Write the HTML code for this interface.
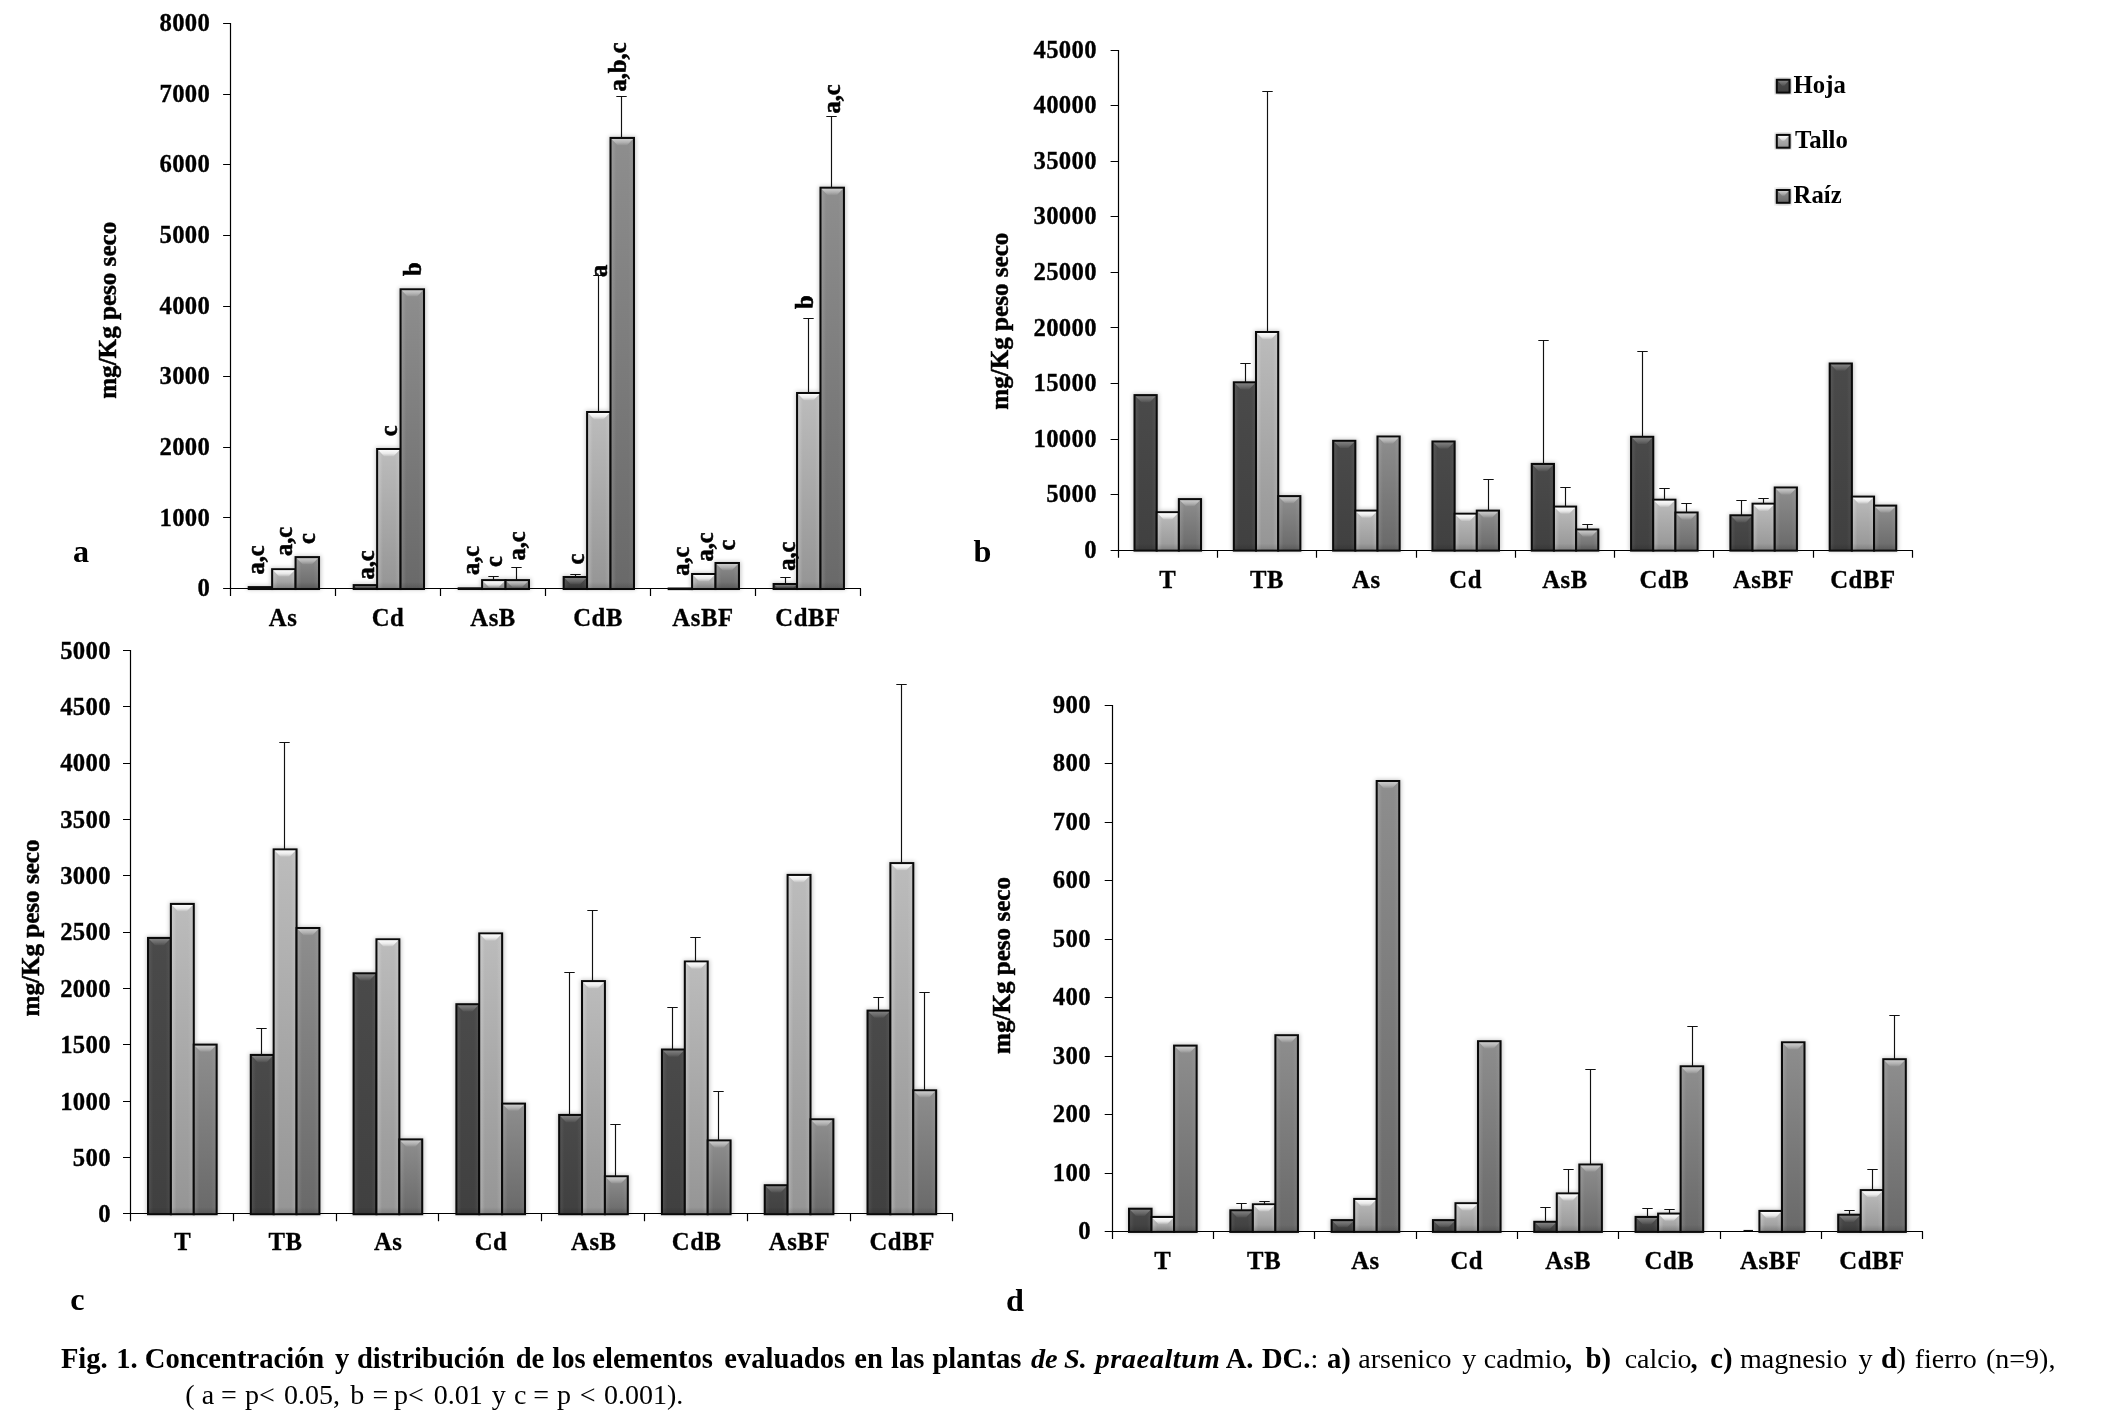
<!DOCTYPE html>
<html><head><meta charset="utf-8"><title>Fig. 1</title>
<style>
html,body{margin:0;padding:0;background:#fff;}
body{width:2112px;height:1424px;overflow:hidden;position:relative;font-family:"Liberation Serif",serif;color:#000;}
svg{position:absolute;left:0;top:0;opacity:0.999;filter:grayscale(1);}
text{font-family:"Liberation Serif",serif;font-weight:bold;fill:#000;}
.tk{font-size:24.7px;letter-spacing:0.3px;stroke:#000;stroke-width:0.3px;}
.ct{font-size:24.7px;letter-spacing:0.6px;stroke:#000;stroke-width:0.3px;}
.yt{font-size:25.1px;stroke:#000;stroke-width:0.45px;}
.an{font-size:24.5px;stroke:#000;stroke-width:0.55px;}
.pl{font-size:32.2px;}
.lg{font-size:24.7px;letter-spacing:0.1px;}
.cp text{font-size:28px;}
.cp .cb{font-weight:bold;font-size:28.6px;}
.cp .cbi{font-weight:bold;font-style:italic;font-size:28.3px;}
.cp .sp{letter-spacing:0.6px;}
.cr{font-weight:normal;}
</style></head><body>
<svg width="2112" height="1424" viewBox="0 0 2112 1424">
<defs>
<linearGradient id="gh" x1="0" y1="0" x2="0" y2="1"><stop offset="0" stop-color="#4a4a4a"/><stop offset="1" stop-color="#404040"/></linearGradient>
<linearGradient id="gt" x1="0" y1="0" x2="0" y2="1"><stop offset="0" stop-color="#bcbcbc"/><stop offset="1" stop-color="#959595"/></linearGradient>
<linearGradient id="gr" x1="0" y1="0" x2="0" y2="1"><stop offset="0" stop-color="#8e8e8e"/><stop offset="1" stop-color="#696969"/></linearGradient>
<linearGradient id="bh" x1="0" y1="0" x2="0" y2="1"><stop offset="0" stop-color="#fff" stop-opacity="0.30"/><stop offset="0.6" stop-color="#fff" stop-opacity="0.16"/><stop offset="1" stop-color="#fff" stop-opacity="0.04"/></linearGradient>
<linearGradient id="bt" x1="0" y1="0" x2="0" y2="1"><stop offset="0" stop-color="#fff" stop-opacity="0.95"/><stop offset="0.55" stop-color="#fff" stop-opacity="0.7"/><stop offset="1" stop-color="#fff" stop-opacity="0.12"/></linearGradient>
<linearGradient id="br" x1="0" y1="0" x2="0" y2="1"><stop offset="0" stop-color="#fff" stop-opacity="0.55"/><stop offset="0.55" stop-color="#fff" stop-opacity="0.32"/><stop offset="1" stop-color="#fff" stop-opacity="0.05"/></linearGradient>
<linearGradient id="bot" x1="0" y1="0" x2="0" y2="1"><stop offset="0" stop-color="#000" stop-opacity="0"/><stop offset="1" stop-color="#000" stop-opacity="0.14"/></linearGradient>
<linearGradient id="sh" x1="0" y1="0" x2="1" y2="0"><stop offset="0" stop-color="#fff" stop-opacity="0.07"/><stop offset="0.2" stop-color="#fff" stop-opacity="0"/><stop offset="0.8" stop-color="#fff" stop-opacity="0"/><stop offset="1" stop-color="#fff" stop-opacity="0.05"/></linearGradient>
<linearGradient id="st" x1="0" y1="0" x2="1" y2="0"><stop offset="0" stop-color="#fff" stop-opacity="0.22"/><stop offset="0.22" stop-color="#fff" stop-opacity="0"/><stop offset="0.78" stop-color="#fff" stop-opacity="0"/><stop offset="1" stop-color="#fff" stop-opacity="0.12"/></linearGradient>
<linearGradient id="sr" x1="0" y1="0" x2="1" y2="0"><stop offset="0" stop-color="#fff" stop-opacity="0.12"/><stop offset="0.22" stop-color="#fff" stop-opacity="0"/><stop offset="0.78" stop-color="#fff" stop-opacity="0"/><stop offset="1" stop-color="#fff" stop-opacity="0.06"/></linearGradient>
<filter id="blur" x="-5%" y="-5%" width="110%" height="110%"><feGaussianBlur stdDeviation="2.2"/></filter>
</defs>
<rect width="2112" height="1424" fill="#fff"/>

<g>
<text class="tk" x="210.1" y="596.2" text-anchor="end">0</text>
<text class="tk" x="210.1" y="525.56" text-anchor="end">1000</text>
<text class="tk" x="210.1" y="454.93" text-anchor="end">2000</text>
<text class="tk" x="210.1" y="384.29" text-anchor="end">3000</text>
<text class="tk" x="210.1" y="313.65" text-anchor="end">4000</text>
<text class="tk" x="210.1" y="243.01" text-anchor="end">5000</text>
<text class="tk" x="210.1" y="172.37" text-anchor="end">6000</text>
<text class="tk" x="210.1" y="101.74" text-anchor="end">7000</text>
<text class="tk" x="210.1" y="31.1" text-anchor="end">8000</text>
<text class="ct" x="283.09" y="625.6" text-anchor="middle">As</text>
<text class="ct" x="388.07" y="625.6" text-anchor="middle">Cd</text>
<text class="ct" x="493.06" y="625.6" text-anchor="middle">AsB</text>
<text class="ct" x="598.04" y="625.6" text-anchor="middle">CdB</text>
<text class="ct" x="703.02" y="625.6" text-anchor="middle">AsBF</text>
<text class="ct" x="808.01" y="625.6" text-anchor="middle">CdBF</text>
<text class="yt" transform="translate(115.5 310.3) rotate(-90)" text-anchor="middle">mg/Kg peso seco</text>
<g filter="url(#blur)" fill="#000" opacity="0.22"><rect x="247.2" y="585.6" width="26.98" height="4"/><rect x="270.63" y="567.7" width="26.98" height="21.9"/><rect x="294.06" y="555.6" width="26.98" height="34"/><rect x="352.18" y="583.6" width="26.98" height="6"/><rect x="375.61" y="447.5" width="26.98" height="142.1"/><rect x="399.04" y="287.8" width="26.98" height="301.8"/><rect x="457.17" y="586.8" width="26.98" height="2.8"/><rect x="480.6" y="578.6" width="26.98" height="11"/><rect x="504.03" y="578.6" width="26.98" height="11"/><rect x="562.15" y="575.5" width="26.98" height="14.1"/><rect x="585.58" y="410.5" width="26.98" height="179.1"/><rect x="609.01" y="136.4" width="26.98" height="453.2"/><rect x="690.56" y="572.5" width="26.98" height="17.1"/><rect x="713.99" y="561.5" width="26.98" height="28.1"/><rect x="772.12" y="582.5" width="26.98" height="7.1"/><rect x="795.55" y="391.5" width="26.98" height="198.1"/><rect x="818.98" y="186.2" width="26.98" height="403.4"/></g>
<path d="M230.5 23V596.1M223.1 588.5H861M223.1 517.5H230.5M223.1 447.5H230.5M223.1 376.5H230.5M223.1 306.5H230.5M223.1 235.5H230.5M223.1 164.5H230.5M223.1 94.5H230.5M223.1 23.5H230.5M335.5 588.5V596.1M440.5 588.5V596.1M545.5 588.5V596.1M650.5 588.5V596.1M755.5 588.5V596.1M860.5 588.5V596.1" stroke="#000" stroke-width="1.2" fill="none"/>
<rect x="248.72" y="587.12" width="23.43" height="1.88" fill="url(#gh)" stroke="#0a0a0a" stroke-width="2.05"/><rect x="272.15" y="569.23" width="23.43" height="19.77" fill="url(#gt)" stroke="#0a0a0a" stroke-width="2.05"/><rect x="273.18" y="570.25" width="21.38" height="17.72" fill="url(#st)"/><rect x="273.18" y="581.98" width="21.38" height="6" fill="url(#bot)"/><polygon points="273.18,570.25 294.56,570.25 288.67,576.45 279.07,576.45" fill="url(#bt)"/><rect x="295.58" y="557.12" width="23.43" height="31.88" fill="url(#gr)" stroke="#0a0a0a" stroke-width="2.05"/><rect x="296.61" y="558.15" width="21.38" height="29.82" fill="url(#sr)"/><rect x="296.61" y="581.98" width="21.38" height="6" fill="url(#bot)"/><polygon points="296.61,558.15 317.99,558.15 312.1,564.35 302.5,564.35" fill="url(#br)"/><rect x="353.71" y="585.12" width="23.43" height="3.88" fill="url(#gh)" stroke="#0a0a0a" stroke-width="2.05"/><rect x="354.73" y="586.15" width="21.38" height="1.83" fill="url(#sh)"/><rect x="354.73" y="586.15" width="21.38" height="1.83" fill="url(#bot)"/><polygon points="354.73,586.15 376.11,586.15 374.38,587.98 356.47,587.98" fill="url(#bh)"/><rect x="377.14" y="449.02" width="23.43" height="139.98" fill="url(#gt)" stroke="#0a0a0a" stroke-width="2.05"/><rect x="378.16" y="450.05" width="21.38" height="137.93" fill="url(#st)"/><rect x="378.16" y="581.97" width="21.38" height="6" fill="url(#bot)"/><polygon points="378.16,450.05 399.54,450.05 393.65,456.25 384.05,456.25" fill="url(#bt)"/><rect x="400.57" y="289.32" width="23.43" height="299.68" fill="url(#gr)" stroke="#0a0a0a" stroke-width="2.05"/><rect x="401.59" y="290.35" width="21.38" height="297.62" fill="url(#sr)"/><rect x="401.59" y="581.97" width="21.38" height="6" fill="url(#bot)"/><polygon points="401.59,290.35 422.97,290.35 417.08,296.55 407.48,296.55" fill="url(#br)"/><rect x="458.69" y="588.32" width="23.43" height="0.68" fill="url(#gh)" stroke="#0a0a0a" stroke-width="2.05"/><rect x="482.12" y="580.12" width="23.43" height="8.88" fill="url(#gt)" stroke="#0a0a0a" stroke-width="2.05"/><rect x="483.15" y="581.15" width="21.38" height="6.83" fill="url(#st)"/><rect x="483.15" y="581.98" width="21.38" height="6" fill="url(#bot)"/><polygon points="483.15,581.15 504.53,581.15 498.64,587.35 489.04,587.35" fill="url(#bt)"/><rect x="505.55" y="580.12" width="23.43" height="8.88" fill="url(#gr)" stroke="#0a0a0a" stroke-width="2.05"/><rect x="506.58" y="581.15" width="21.38" height="6.83" fill="url(#sr)"/><rect x="506.58" y="581.98" width="21.38" height="6" fill="url(#bot)"/><polygon points="506.58,581.15 527.96,581.15 522.07,587.35 512.47,587.35" fill="url(#br)"/><rect x="563.67" y="577.02" width="23.43" height="11.98" fill="url(#gh)" stroke="#0a0a0a" stroke-width="2.05"/><rect x="564.7" y="578.05" width="21.38" height="9.93" fill="url(#sh)"/><rect x="564.7" y="581.98" width="21.38" height="6" fill="url(#bot)"/><polygon points="564.7,578.05 586.08,578.05 580.19,584.25 570.59,584.25" fill="url(#bh)"/><rect x="587.1" y="412.02" width="23.43" height="176.98" fill="url(#gt)" stroke="#0a0a0a" stroke-width="2.05"/><rect x="588.13" y="413.05" width="21.38" height="174.93" fill="url(#st)"/><rect x="588.13" y="581.97" width="21.38" height="6" fill="url(#bot)"/><polygon points="588.13,413.05 609.51,413.05 603.62,419.25 594.02,419.25" fill="url(#bt)"/><rect x="610.53" y="137.93" width="23.43" height="451.07" fill="url(#gr)" stroke="#0a0a0a" stroke-width="2.05"/><rect x="611.56" y="138.95" width="21.38" height="449.02" fill="url(#sr)"/><rect x="611.56" y="581.98" width="21.38" height="6" fill="url(#bot)"/><polygon points="611.56,138.95 632.94,138.95 627.05,145.15 617.45,145.15" fill="url(#br)"/><rect x="668.66" y="588.52" width="23.43" height="0.6" fill="url(#gh)" stroke="#0a0a0a" stroke-width="2.05"/><rect x="692.09" y="574.02" width="23.43" height="14.98" fill="url(#gt)" stroke="#0a0a0a" stroke-width="2.05"/><rect x="693.11" y="575.05" width="21.38" height="12.93" fill="url(#st)"/><rect x="693.11" y="581.98" width="21.38" height="6" fill="url(#bot)"/><polygon points="693.11,575.05 714.49,575.05 708.6,581.25 699,581.25" fill="url(#bt)"/><rect x="715.52" y="563.02" width="23.43" height="25.98" fill="url(#gr)" stroke="#0a0a0a" stroke-width="2.05"/><rect x="716.54" y="564.05" width="21.38" height="23.93" fill="url(#sr)"/><rect x="716.54" y="581.98" width="21.38" height="6" fill="url(#bot)"/><polygon points="716.54,564.05 737.92,564.05 732.03,570.25 722.43,570.25" fill="url(#br)"/><rect x="773.64" y="584.02" width="23.43" height="4.98" fill="url(#gh)" stroke="#0a0a0a" stroke-width="2.05"/><rect x="774.67" y="585.05" width="21.38" height="2.93" fill="url(#sh)"/><rect x="774.67" y="585.05" width="21.38" height="2.93" fill="url(#bot)"/><polygon points="774.67,585.05 796.05,585.05 793.27,587.98 777.45,587.98" fill="url(#bh)"/><rect x="797.07" y="393.02" width="23.43" height="195.98" fill="url(#gt)" stroke="#0a0a0a" stroke-width="2.05"/><rect x="798.1" y="394.05" width="21.38" height="193.93" fill="url(#st)"/><rect x="798.1" y="581.97" width="21.38" height="6" fill="url(#bot)"/><polygon points="798.1,394.05 819.48,394.05 813.59,400.25 803.99,400.25" fill="url(#bt)"/><rect x="820.5" y="187.72" width="23.43" height="401.27" fill="url(#gr)" stroke="#0a0a0a" stroke-width="2.05"/><rect x="821.53" y="188.75" width="21.38" height="399.22" fill="url(#sr)"/><rect x="821.53" y="581.97" width="21.38" height="6" fill="url(#bot)"/><polygon points="821.53,188.75 842.91,188.75 837.02,194.95 827.42,194.95" fill="url(#br)"/>
<g stroke="#111" stroke-width="1.15" fill="none"><path d="M493.5 580.1V576.5M488.3 576.5H498.7" /><path d="M516.5 580.1V567.5M511.3 567.5H521.7" /><path d="M575.5 577V574.5M570.3 574.5H580.7" /><path d="M598.5 412V275.5M593.3 275.5H603.7" /><path d="M621.5 137.9V96.5M616.3 96.5H626.7" /><path d="M785.5 584V577.5M780.3 577.5H790.7" /><path d="M808.5 393V318.5M803.3 318.5H813.7" /><path d="M831.5 187.7V116.5M826.3 116.5H836.7" /></g>
</g>
<g>
<text class="tk" x="1096.8" y="557.8" text-anchor="end">0</text>
<text class="tk" x="1096.8" y="502.24" text-anchor="end">5000</text>
<text class="tk" x="1096.8" y="446.69" text-anchor="end">10000</text>
<text class="tk" x="1096.8" y="391.13" text-anchor="end">15000</text>
<text class="tk" x="1096.8" y="335.58" text-anchor="end">20000</text>
<text class="tk" x="1096.8" y="280.02" text-anchor="end">25000</text>
<text class="tk" x="1096.8" y="224.47" text-anchor="end">30000</text>
<text class="tk" x="1096.8" y="168.91" text-anchor="end">35000</text>
<text class="tk" x="1096.8" y="113.36" text-anchor="end">40000</text>
<text class="tk" x="1096.8" y="57.8" text-anchor="end">45000</text>
<text class="ct" x="1167.76" y="587.6" text-anchor="middle">T</text>
<text class="ct" x="1267.07" y="587.6" text-anchor="middle">TB</text>
<text class="ct" x="1366.38" y="587.6" text-anchor="middle">As</text>
<text class="ct" x="1465.69" y="587.6" text-anchor="middle">Cd</text>
<text class="ct" x="1565.01" y="587.6" text-anchor="middle">AsB</text>
<text class="ct" x="1664.32" y="587.6" text-anchor="middle">CdB</text>
<text class="ct" x="1763.63" y="587.6" text-anchor="middle">AsBF</text>
<text class="ct" x="1862.94" y="587.6" text-anchor="middle">CdBF</text>
<text class="yt" transform="translate(1008.3 321.2) rotate(-90)" text-anchor="middle">mg/Kg peso seco</text>
<g filter="url(#blur)" fill="#000" opacity="0.22"><rect x="1133" y="393.6" width="25.72" height="157.6"/><rect x="1155.17" y="510.7" width="25.72" height="40.5"/><rect x="1177.34" y="497.6" width="25.72" height="53.6"/><rect x="1232.31" y="380.8" width="25.72" height="170.4"/><rect x="1254.48" y="330.5" width="25.72" height="220.7"/><rect x="1276.65" y="494.6" width="25.72" height="56.6"/><rect x="1331.62" y="439.3" width="25.72" height="111.9"/><rect x="1353.8" y="509.1" width="25.72" height="42.1"/><rect x="1375.96" y="435" width="25.72" height="116.2"/><rect x="1430.94" y="440" width="25.72" height="111.2"/><rect x="1453.11" y="512.2" width="25.72" height="39"/><rect x="1475.28" y="509.1" width="25.72" height="42.1"/><rect x="1530.25" y="462.4" width="25.72" height="88.8"/><rect x="1552.42" y="505.1" width="25.72" height="46.1"/><rect x="1574.59" y="528" width="25.72" height="23.2"/><rect x="1629.56" y="435.3" width="25.72" height="115.9"/><rect x="1651.73" y="498.2" width="25.72" height="53"/><rect x="1673.9" y="511" width="25.72" height="40.2"/><rect x="1728.88" y="513.8" width="25.72" height="37.4"/><rect x="1751.05" y="502.2" width="25.72" height="49"/><rect x="1773.21" y="486" width="25.72" height="65.2"/><rect x="1828.19" y="362" width="25.72" height="189.2"/><rect x="1850.36" y="495.1" width="25.72" height="56.1"/><rect x="1872.53" y="504.1" width="25.72" height="47.1"/></g>
<path d="M1118.5 50V557.7M1110.6 550.5H1913M1110.6 494.5H1118.5M1110.6 439.5H1118.5M1110.6 383.5H1118.5M1110.6 327.5H1118.5M1110.6 272.5H1118.5M1110.6 216.5H1118.5M1110.6 161.5H1118.5M1110.6 105.5H1118.5M1110.6 50.5H1118.5M1217.5 550.5V557.7M1316.5 550.5V557.7M1416.5 550.5V557.7M1515.5 550.5V557.7M1614.5 550.5V557.7M1713.5 550.5V557.7M1813.5 550.5V557.7M1912.5 550.5V557.7" stroke="#000" stroke-width="1.2" fill="none"/>
<rect x="1134.53" y="395.12" width="22.17" height="155.48" fill="url(#gh)" stroke="#0a0a0a" stroke-width="2.05"/><rect x="1135.55" y="396.15" width="20.12" height="153.43" fill="url(#sh)"/><rect x="1135.55" y="543.58" width="20.12" height="6" fill="url(#bot)"/><polygon points="1135.55,396.15 1155.67,396.15 1149.78,402.35 1141.44,402.35" fill="url(#bh)"/><rect x="1156.7" y="512.23" width="22.17" height="38.38" fill="url(#gt)" stroke="#0a0a0a" stroke-width="2.05"/><rect x="1157.72" y="513.25" width="20.12" height="36.33" fill="url(#st)"/><rect x="1157.72" y="543.58" width="20.12" height="6" fill="url(#bot)"/><polygon points="1157.72,513.25 1177.84,513.25 1171.95,519.45 1163.61,519.45" fill="url(#bt)"/><rect x="1178.87" y="499.12" width="22.17" height="51.48" fill="url(#gr)" stroke="#0a0a0a" stroke-width="2.05"/><rect x="1179.89" y="500.15" width="20.12" height="49.43" fill="url(#sr)"/><rect x="1179.89" y="543.58" width="20.12" height="6" fill="url(#bot)"/><polygon points="1179.89,500.15 1200.01,500.15 1194.12,506.35 1185.78,506.35" fill="url(#br)"/><rect x="1233.84" y="382.32" width="22.17" height="168.28" fill="url(#gh)" stroke="#0a0a0a" stroke-width="2.05"/><rect x="1234.86" y="383.35" width="20.12" height="166.23" fill="url(#sh)"/><rect x="1234.86" y="543.58" width="20.12" height="6" fill="url(#bot)"/><polygon points="1234.86,383.35 1254.98,383.35 1249.09,389.55 1240.75,389.55" fill="url(#bh)"/><rect x="1256.01" y="332.02" width="22.17" height="218.58" fill="url(#gt)" stroke="#0a0a0a" stroke-width="2.05"/><rect x="1257.03" y="333.05" width="20.12" height="216.53" fill="url(#st)"/><rect x="1257.03" y="543.58" width="20.12" height="6" fill="url(#bot)"/><polygon points="1257.03,333.05 1277.15,333.05 1271.26,339.25 1262.92,339.25" fill="url(#bt)"/><rect x="1278.18" y="496.12" width="22.17" height="54.48" fill="url(#gr)" stroke="#0a0a0a" stroke-width="2.05"/><rect x="1279.2" y="497.15" width="20.12" height="52.43" fill="url(#sr)"/><rect x="1279.2" y="543.58" width="20.12" height="6" fill="url(#bot)"/><polygon points="1279.2,497.15 1299.32,497.15 1293.43,503.35 1285.09,503.35" fill="url(#br)"/><rect x="1333.15" y="440.82" width="22.17" height="109.78" fill="url(#gh)" stroke="#0a0a0a" stroke-width="2.05"/><rect x="1334.18" y="441.85" width="20.12" height="107.73" fill="url(#sh)"/><rect x="1334.18" y="543.58" width="20.12" height="6" fill="url(#bot)"/><polygon points="1334.18,441.85 1354.3,441.85 1348.4,448.05 1340.07,448.05" fill="url(#bh)"/><rect x="1355.32" y="510.62" width="22.17" height="39.98" fill="url(#gt)" stroke="#0a0a0a" stroke-width="2.05"/><rect x="1356.35" y="511.65" width="20.12" height="37.93" fill="url(#st)"/><rect x="1356.35" y="543.58" width="20.12" height="6" fill="url(#bot)"/><polygon points="1356.35,511.65 1376.46,511.65 1370.57,517.85 1362.24,517.85" fill="url(#bt)"/><rect x="1377.49" y="436.52" width="22.17" height="114.08" fill="url(#gr)" stroke="#0a0a0a" stroke-width="2.05"/><rect x="1378.52" y="437.55" width="20.12" height="112.03" fill="url(#sr)"/><rect x="1378.52" y="543.58" width="20.12" height="6" fill="url(#bot)"/><polygon points="1378.52,437.55 1398.63,437.55 1392.74,443.75 1384.41,443.75" fill="url(#br)"/><rect x="1432.46" y="441.52" width="22.17" height="109.08" fill="url(#gh)" stroke="#0a0a0a" stroke-width="2.05"/><rect x="1433.49" y="442.55" width="20.12" height="107.03" fill="url(#sh)"/><rect x="1433.49" y="543.58" width="20.12" height="6" fill="url(#bot)"/><polygon points="1433.49,442.55 1453.61,442.55 1447.72,448.75 1439.38,448.75" fill="url(#bh)"/><rect x="1454.63" y="513.73" width="22.17" height="36.88" fill="url(#gt)" stroke="#0a0a0a" stroke-width="2.05"/><rect x="1455.66" y="514.75" width="20.12" height="34.83" fill="url(#st)"/><rect x="1455.66" y="543.58" width="20.12" height="6" fill="url(#bot)"/><polygon points="1455.66,514.75 1475.78,514.75 1469.89,520.95 1461.55,520.95" fill="url(#bt)"/><rect x="1476.8" y="510.62" width="22.17" height="39.98" fill="url(#gr)" stroke="#0a0a0a" stroke-width="2.05"/><rect x="1477.83" y="511.65" width="20.12" height="37.93" fill="url(#sr)"/><rect x="1477.83" y="543.58" width="20.12" height="6" fill="url(#bot)"/><polygon points="1477.83,511.65 1497.95,511.65 1492.06,517.85 1483.72,517.85" fill="url(#br)"/><rect x="1531.78" y="463.92" width="22.17" height="86.68" fill="url(#gh)" stroke="#0a0a0a" stroke-width="2.05"/><rect x="1532.8" y="464.95" width="20.12" height="84.63" fill="url(#sh)"/><rect x="1532.8" y="543.58" width="20.12" height="6" fill="url(#bot)"/><polygon points="1532.8,464.95 1552.92,464.95 1547.03,471.15 1538.69,471.15" fill="url(#bh)"/><rect x="1553.95" y="506.62" width="22.17" height="43.98" fill="url(#gt)" stroke="#0a0a0a" stroke-width="2.05"/><rect x="1554.97" y="507.65" width="20.12" height="41.93" fill="url(#st)"/><rect x="1554.97" y="543.58" width="20.12" height="6" fill="url(#bot)"/><polygon points="1554.97,507.65 1575.09,507.65 1569.2,513.85 1560.86,513.85" fill="url(#bt)"/><rect x="1576.12" y="529.52" width="22.17" height="21.08" fill="url(#gr)" stroke="#0a0a0a" stroke-width="2.05"/><rect x="1577.14" y="530.55" width="20.12" height="19.03" fill="url(#sr)"/><rect x="1577.14" y="543.58" width="20.12" height="6" fill="url(#bot)"/><polygon points="1577.14,530.55 1597.26,530.55 1591.37,536.75 1583.03,536.75" fill="url(#br)"/><rect x="1631.09" y="436.82" width="22.17" height="113.78" fill="url(#gh)" stroke="#0a0a0a" stroke-width="2.05"/><rect x="1632.11" y="437.85" width="20.12" height="111.73" fill="url(#sh)"/><rect x="1632.11" y="543.58" width="20.12" height="6" fill="url(#bot)"/><polygon points="1632.11,437.85 1652.23,437.85 1646.34,444.05 1638,444.05" fill="url(#bh)"/><rect x="1653.26" y="499.72" width="22.17" height="50.88" fill="url(#gt)" stroke="#0a0a0a" stroke-width="2.05"/><rect x="1654.28" y="500.75" width="20.12" height="48.83" fill="url(#st)"/><rect x="1654.28" y="543.58" width="20.12" height="6" fill="url(#bot)"/><polygon points="1654.28,500.75 1674.4,500.75 1668.51,506.95 1660.17,506.95" fill="url(#bt)"/><rect x="1675.43" y="512.52" width="22.17" height="38.08" fill="url(#gr)" stroke="#0a0a0a" stroke-width="2.05"/><rect x="1676.45" y="513.55" width="20.12" height="36.03" fill="url(#sr)"/><rect x="1676.45" y="543.58" width="20.12" height="6" fill="url(#bot)"/><polygon points="1676.45,513.55 1696.57,513.55 1690.68,519.75 1682.34,519.75" fill="url(#br)"/><rect x="1730.4" y="515.32" width="22.17" height="35.28" fill="url(#gh)" stroke="#0a0a0a" stroke-width="2.05"/><rect x="1731.43" y="516.35" width="20.12" height="33.23" fill="url(#sh)"/><rect x="1731.43" y="543.58" width="20.12" height="6" fill="url(#bot)"/><polygon points="1731.43,516.35 1751.55,516.35 1745.65,522.55 1737.32,522.55" fill="url(#bh)"/><rect x="1752.57" y="503.72" width="22.17" height="46.88" fill="url(#gt)" stroke="#0a0a0a" stroke-width="2.05"/><rect x="1753.6" y="504.75" width="20.12" height="44.83" fill="url(#st)"/><rect x="1753.6" y="543.58" width="20.12" height="6" fill="url(#bot)"/><polygon points="1753.6,504.75 1773.71,504.75 1767.82,510.95 1759.49,510.95" fill="url(#bt)"/><rect x="1774.74" y="487.52" width="22.17" height="63.08" fill="url(#gr)" stroke="#0a0a0a" stroke-width="2.05"/><rect x="1775.77" y="488.55" width="20.12" height="61.03" fill="url(#sr)"/><rect x="1775.77" y="543.58" width="20.12" height="6" fill="url(#bot)"/><polygon points="1775.77,488.55 1795.88,488.55 1789.99,494.75 1781.66,494.75" fill="url(#br)"/><rect x="1829.71" y="363.52" width="22.17" height="187.08" fill="url(#gh)" stroke="#0a0a0a" stroke-width="2.05"/><rect x="1830.74" y="364.55" width="20.12" height="185.03" fill="url(#sh)"/><rect x="1830.74" y="543.58" width="20.12" height="6" fill="url(#bot)"/><polygon points="1830.74,364.55 1850.86,364.55 1844.97,370.75 1836.63,370.75" fill="url(#bh)"/><rect x="1851.88" y="496.62" width="22.17" height="53.98" fill="url(#gt)" stroke="#0a0a0a" stroke-width="2.05"/><rect x="1852.91" y="497.65" width="20.12" height="51.93" fill="url(#st)"/><rect x="1852.91" y="543.58" width="20.12" height="6" fill="url(#bot)"/><polygon points="1852.91,497.65 1873.03,497.65 1867.14,503.85 1858.8,503.85" fill="url(#bt)"/><rect x="1874.05" y="505.62" width="22.17" height="44.98" fill="url(#gr)" stroke="#0a0a0a" stroke-width="2.05"/><rect x="1875.08" y="506.65" width="20.12" height="42.93" fill="url(#sr)"/><rect x="1875.08" y="543.58" width="20.12" height="6" fill="url(#bot)"/><polygon points="1875.08,506.65 1895.2,506.65 1889.31,512.85 1880.97,512.85" fill="url(#br)"/>
<g stroke="#111" stroke-width="1.15" fill="none"><path d="M1245.5 382.3V363.5M1240.3 363.5H1250.7" /><path d="M1267.5 332V91.5M1262.3 91.5H1272.7" /><path d="M1488.5 510.6V479.5M1483.3 479.5H1493.7" /><path d="M1543.5 463.9V340.5M1538.3 340.5H1548.7" /><path d="M1565.5 506.6V487.5M1560.3 487.5H1570.7" /><path d="M1587.5 529.5V524.5M1582.3 524.5H1592.7" /><path d="M1642.5 436.8V351.5M1637.3 351.5H1647.7" /><path d="M1664.5 499.7V488.5M1659.3 488.5H1669.7" /><path d="M1686.5 512.5V503.5M1681.3 503.5H1691.7" /><path d="M1741.5 515.3V500.5M1736.3 500.5H1746.7" /><path d="M1763.5 503.7V498.5M1758.3 498.5H1768.7" /></g>
</g>
<g>
<text class="tk" x="110.8" y="1222.2" text-anchor="end">0</text>
<text class="tk" x="110.8" y="1165.85" text-anchor="end">500</text>
<text class="tk" x="110.8" y="1109.5" text-anchor="end">1000</text>
<text class="tk" x="110.8" y="1053.15" text-anchor="end">1500</text>
<text class="tk" x="110.8" y="996.8" text-anchor="end">2000</text>
<text class="tk" x="110.8" y="940.45" text-anchor="end">2500</text>
<text class="tk" x="110.8" y="884.1" text-anchor="end">3000</text>
<text class="tk" x="110.8" y="827.75" text-anchor="end">3500</text>
<text class="tk" x="110.8" y="771.4" text-anchor="end">4000</text>
<text class="tk" x="110.8" y="715.05" text-anchor="end">4500</text>
<text class="tk" x="110.8" y="658.7" text-anchor="end">5000</text>
<text class="ct" x="182.69" y="1249.8" text-anchor="middle">T</text>
<text class="ct" x="285.48" y="1249.8" text-anchor="middle">TB</text>
<text class="ct" x="388.27" y="1249.8" text-anchor="middle">As</text>
<text class="ct" x="491.06" y="1249.8" text-anchor="middle">Cd</text>
<text class="ct" x="593.84" y="1249.8" text-anchor="middle">AsB</text>
<text class="ct" x="696.63" y="1249.8" text-anchor="middle">CdB</text>
<text class="ct" x="799.42" y="1249.8" text-anchor="middle">AsBF</text>
<text class="ct" x="902.21" y="1249.8" text-anchor="middle">CdBF</text>
<text class="yt" transform="translate(38.9 928) rotate(-90)" text-anchor="middle">mg/Kg peso seco</text>
<g filter="url(#blur)" fill="#000" opacity="0.22"><rect x="146.5" y="936.4" width="26.42" height="278.4"/><rect x="169.37" y="902.4" width="26.42" height="312.4"/><rect x="192.24" y="1043.1" width="26.42" height="171.7"/><rect x="249.29" y="1053.4" width="26.42" height="161.4"/><rect x="272.16" y="847.9" width="26.42" height="366.9"/><rect x="295.03" y="926.5" width="26.42" height="288.3"/><rect x="352.07" y="971.8" width="26.42" height="243"/><rect x="374.94" y="937.8" width="26.42" height="277"/><rect x="397.81" y="1137.9" width="26.42" height="76.9"/><rect x="454.86" y="1002.7" width="26.42" height="212.1"/><rect x="477.73" y="931.9" width="26.42" height="282.9"/><rect x="500.6" y="1102.1" width="26.42" height="112.7"/><rect x="557.65" y="1113.4" width="26.42" height="101.4"/><rect x="580.52" y="979.6" width="26.42" height="235.2"/><rect x="603.39" y="1174.8" width="26.42" height="40"/><rect x="660.44" y="1048" width="26.42" height="166.8"/><rect x="683.31" y="960" width="26.42" height="254.8"/><rect x="706.18" y="1138.9" width="26.42" height="75.9"/><rect x="763.22" y="1183.7" width="26.42" height="31.1"/><rect x="786.09" y="873.4" width="26.42" height="341.4"/><rect x="808.96" y="1117.8" width="26.42" height="97"/><rect x="866.01" y="1009.1" width="26.42" height="205.7"/><rect x="888.88" y="861.6" width="26.42" height="353.2"/><rect x="911.75" y="1088.8" width="26.42" height="126"/></g>
<path d="M130.5 650V1221.3M123 1213.5H953M123 1157.5H130.5M123 1101.5H130.5M123 1044.5H130.5M123 988.5H130.5M123 932.5H130.5M123 875.5H130.5M123 819.5H130.5M123 763.5H130.5M123 706.5H130.5M123 650.5H130.5M233.5 1213.5V1221.3M336.5 1213.5V1221.3M438.5 1213.5V1221.3M541.5 1213.5V1221.3M644.5 1213.5V1221.3M747.5 1213.5V1221.3M850.5 1213.5V1221.3M952.5 1213.5V1221.3" stroke="#000" stroke-width="1.2" fill="none"/>
<rect x="148.03" y="937.92" width="22.87" height="276.28" fill="url(#gh)" stroke="#0a0a0a" stroke-width="2.05"/><rect x="149.05" y="938.95" width="20.82" height="274.23" fill="url(#sh)"/><rect x="149.05" y="1207.17" width="20.82" height="6" fill="url(#bot)"/><polygon points="149.05,938.95 169.87,938.95 163.98,945.15 154.94,945.15" fill="url(#bh)"/><rect x="170.9" y="903.92" width="22.87" height="310.28" fill="url(#gt)" stroke="#0a0a0a" stroke-width="2.05"/><rect x="171.92" y="904.95" width="20.82" height="308.23" fill="url(#st)"/><rect x="171.92" y="1207.17" width="20.82" height="6" fill="url(#bot)"/><polygon points="171.92,904.95 192.74,904.95 186.85,911.15 177.81,911.15" fill="url(#bt)"/><rect x="193.77" y="1044.62" width="22.87" height="169.58" fill="url(#gr)" stroke="#0a0a0a" stroke-width="2.05"/><rect x="194.79" y="1045.65" width="20.82" height="167.53" fill="url(#sr)"/><rect x="194.79" y="1207.18" width="20.82" height="6" fill="url(#bot)"/><polygon points="194.79,1045.65 215.61,1045.65 209.72,1051.85 200.68,1051.85" fill="url(#br)"/><rect x="250.81" y="1054.92" width="22.87" height="159.28" fill="url(#gh)" stroke="#0a0a0a" stroke-width="2.05"/><rect x="251.84" y="1055.95" width="20.82" height="157.23" fill="url(#sh)"/><rect x="251.84" y="1207.18" width="20.82" height="6" fill="url(#bot)"/><polygon points="251.84,1055.95 272.66,1055.95 266.77,1062.15 257.73,1062.15" fill="url(#bh)"/><rect x="273.68" y="849.42" width="22.87" height="364.78" fill="url(#gt)" stroke="#0a0a0a" stroke-width="2.05"/><rect x="274.71" y="850.45" width="20.82" height="362.73" fill="url(#st)"/><rect x="274.71" y="1207.17" width="20.82" height="6" fill="url(#bot)"/><polygon points="274.71,850.45 295.53,850.45 289.64,856.65 280.6,856.65" fill="url(#bt)"/><rect x="296.55" y="928.02" width="22.87" height="286.18" fill="url(#gr)" stroke="#0a0a0a" stroke-width="2.05"/><rect x="297.58" y="929.05" width="20.82" height="284.13" fill="url(#sr)"/><rect x="297.58" y="1207.17" width="20.82" height="6" fill="url(#bot)"/><polygon points="297.58,929.05 318.4,929.05 312.51,935.25 303.47,935.25" fill="url(#br)"/><rect x="353.6" y="973.33" width="22.87" height="240.88" fill="url(#gh)" stroke="#0a0a0a" stroke-width="2.05"/><rect x="354.62" y="974.35" width="20.82" height="238.82" fill="url(#sh)"/><rect x="354.62" y="1207.17" width="20.82" height="6" fill="url(#bot)"/><polygon points="354.62,974.35 375.44,974.35 369.56,980.55 360.51,980.55" fill="url(#bh)"/><rect x="376.47" y="939.33" width="22.87" height="274.88" fill="url(#gt)" stroke="#0a0a0a" stroke-width="2.05"/><rect x="377.49" y="940.35" width="20.82" height="272.82" fill="url(#st)"/><rect x="377.49" y="1207.17" width="20.82" height="6" fill="url(#bot)"/><polygon points="377.49,940.35 398.31,940.35 392.43,946.55 383.38,946.55" fill="url(#bt)"/><rect x="399.34" y="1139.42" width="22.87" height="74.78" fill="url(#gr)" stroke="#0a0a0a" stroke-width="2.05"/><rect x="400.36" y="1140.45" width="20.82" height="72.73" fill="url(#sr)"/><rect x="400.36" y="1207.18" width="20.82" height="6" fill="url(#bot)"/><polygon points="400.36,1140.45 421.19,1140.45 415.3,1146.65 406.25,1146.65" fill="url(#br)"/><rect x="456.39" y="1004.23" width="22.87" height="209.98" fill="url(#gh)" stroke="#0a0a0a" stroke-width="2.05"/><rect x="457.41" y="1005.25" width="20.82" height="207.93" fill="url(#sh)"/><rect x="457.41" y="1207.17" width="20.82" height="6" fill="url(#bot)"/><polygon points="457.41,1005.25 478.23,1005.25 472.34,1011.45 463.3,1011.45" fill="url(#bh)"/><rect x="479.26" y="933.42" width="22.87" height="280.78" fill="url(#gt)" stroke="#0a0a0a" stroke-width="2.05"/><rect x="480.28" y="934.45" width="20.82" height="278.73" fill="url(#st)"/><rect x="480.28" y="1207.17" width="20.82" height="6" fill="url(#bot)"/><polygon points="480.28,934.45 501.1,934.45 495.21,940.65 486.17,940.65" fill="url(#bt)"/><rect x="502.13" y="1103.62" width="22.87" height="110.58" fill="url(#gr)" stroke="#0a0a0a" stroke-width="2.05"/><rect x="503.15" y="1104.65" width="20.82" height="108.53" fill="url(#sr)"/><rect x="503.15" y="1207.18" width="20.82" height="6" fill="url(#bot)"/><polygon points="503.15,1104.65 523.97,1104.65 518.08,1110.85 509.04,1110.85" fill="url(#br)"/><rect x="559.17" y="1114.92" width="22.87" height="99.28" fill="url(#gh)" stroke="#0a0a0a" stroke-width="2.05"/><rect x="560.2" y="1115.95" width="20.82" height="97.23" fill="url(#sh)"/><rect x="560.2" y="1207.18" width="20.82" height="6" fill="url(#bot)"/><polygon points="560.2,1115.95 581.02,1115.95 575.13,1122.15 566.09,1122.15" fill="url(#bh)"/><rect x="582.04" y="981.12" width="22.87" height="233.08" fill="url(#gt)" stroke="#0a0a0a" stroke-width="2.05"/><rect x="583.07" y="982.15" width="20.82" height="231.03" fill="url(#st)"/><rect x="583.07" y="1207.17" width="20.82" height="6" fill="url(#bot)"/><polygon points="583.07,982.15 603.89,982.15 598,988.35 588.96,988.35" fill="url(#bt)"/><rect x="604.91" y="1176.33" width="22.87" height="37.88" fill="url(#gr)" stroke="#0a0a0a" stroke-width="2.05"/><rect x="605.94" y="1177.35" width="20.82" height="35.83" fill="url(#sr)"/><rect x="605.94" y="1207.18" width="20.82" height="6" fill="url(#bot)"/><polygon points="605.94,1177.35 626.76,1177.35 620.87,1183.55 611.83,1183.55" fill="url(#br)"/><rect x="661.96" y="1049.53" width="22.87" height="164.67" fill="url(#gh)" stroke="#0a0a0a" stroke-width="2.05"/><rect x="662.99" y="1050.55" width="20.82" height="162.62" fill="url(#sh)"/><rect x="662.99" y="1207.18" width="20.82" height="6" fill="url(#bot)"/><polygon points="662.99,1050.55 683.81,1050.55 677.92,1056.75 668.88,1056.75" fill="url(#bh)"/><rect x="684.83" y="961.52" width="22.87" height="252.68" fill="url(#gt)" stroke="#0a0a0a" stroke-width="2.05"/><rect x="685.86" y="962.55" width="20.82" height="250.63" fill="url(#st)"/><rect x="685.86" y="1207.17" width="20.82" height="6" fill="url(#bot)"/><polygon points="685.86,962.55 706.68,962.55 700.79,968.75 691.75,968.75" fill="url(#bt)"/><rect x="707.7" y="1140.42" width="22.87" height="73.78" fill="url(#gr)" stroke="#0a0a0a" stroke-width="2.05"/><rect x="708.73" y="1141.45" width="20.82" height="71.73" fill="url(#sr)"/><rect x="708.73" y="1207.18" width="20.82" height="6" fill="url(#bot)"/><polygon points="708.73,1141.45 729.55,1141.45 723.66,1147.65 714.62,1147.65" fill="url(#br)"/><rect x="764.75" y="1185.22" width="22.87" height="28.98" fill="url(#gh)" stroke="#0a0a0a" stroke-width="2.05"/><rect x="765.77" y="1186.25" width="20.82" height="26.93" fill="url(#sh)"/><rect x="765.77" y="1207.18" width="20.82" height="6" fill="url(#bot)"/><polygon points="765.77,1186.25 786.59,1186.25 780.7,1192.45 771.66,1192.45" fill="url(#bh)"/><rect x="787.62" y="874.92" width="22.87" height="339.28" fill="url(#gt)" stroke="#0a0a0a" stroke-width="2.05"/><rect x="788.64" y="875.95" width="20.82" height="337.23" fill="url(#st)"/><rect x="788.64" y="1207.17" width="20.82" height="6" fill="url(#bot)"/><polygon points="788.64,875.95 809.46,875.95 803.57,882.15 794.53,882.15" fill="url(#bt)"/><rect x="810.49" y="1119.33" width="22.87" height="94.88" fill="url(#gr)" stroke="#0a0a0a" stroke-width="2.05"/><rect x="811.51" y="1120.35" width="20.82" height="92.83" fill="url(#sr)"/><rect x="811.51" y="1207.18" width="20.82" height="6" fill="url(#bot)"/><polygon points="811.51,1120.35 832.33,1120.35 826.44,1126.55 817.4,1126.55" fill="url(#br)"/><rect x="867.54" y="1010.62" width="22.87" height="203.58" fill="url(#gh)" stroke="#0a0a0a" stroke-width="2.05"/><rect x="868.56" y="1011.65" width="20.82" height="201.53" fill="url(#sh)"/><rect x="868.56" y="1207.17" width="20.82" height="6" fill="url(#bot)"/><polygon points="868.56,1011.65 889.38,1011.65 883.49,1017.85 874.45,1017.85" fill="url(#bh)"/><rect x="890.41" y="863.12" width="22.87" height="351.08" fill="url(#gt)" stroke="#0a0a0a" stroke-width="2.05"/><rect x="891.43" y="864.15" width="20.82" height="349.03" fill="url(#st)"/><rect x="891.43" y="1207.17" width="20.82" height="6" fill="url(#bot)"/><polygon points="891.43,864.15 912.25,864.15 906.36,870.35 897.32,870.35" fill="url(#bt)"/><rect x="913.28" y="1090.33" width="22.87" height="123.88" fill="url(#gr)" stroke="#0a0a0a" stroke-width="2.05"/><rect x="914.3" y="1091.35" width="20.82" height="121.83" fill="url(#sr)"/><rect x="914.3" y="1207.18" width="20.82" height="6" fill="url(#bot)"/><polygon points="914.3,1091.35 935.12,1091.35 929.23,1097.55 920.19,1097.55" fill="url(#br)"/>
<g stroke="#111" stroke-width="1.15" fill="none"><path d="M261.5 1054.9V1028.5M256.3 1028.5H266.7" /><path d="M284.5 849.4V742.5M279.3 742.5H289.7" /><path d="M569.5 1114.9V972.5M564.3 972.5H574.7" /><path d="M592.5 981.1V910.5M587.3 910.5H597.7" /><path d="M615.5 1176.3V1124.5M610.3 1124.5H620.7" /><path d="M672.5 1049.5V1007.5M667.3 1007.5H677.7" /><path d="M695.5 961.5V937.5M690.3 937.5H700.7" /><path d="M718.5 1140.4V1091.5M713.3 1091.5H723.7" /><path d="M878.5 1010.6V997.5M873.3 997.5H883.7" /><path d="M901.5 863.1V684.5M896.3 684.5H906.7" /><path d="M924.5 1090.3V992.5M919.3 992.5H929.7" /></g>
</g>
<g>
<text class="tk" x="1090.8" y="1239.1" text-anchor="end">0</text>
<text class="tk" x="1090.8" y="1180.63" text-anchor="end">100</text>
<text class="tk" x="1090.8" y="1122.17" text-anchor="end">200</text>
<text class="tk" x="1090.8" y="1063.7" text-anchor="end">300</text>
<text class="tk" x="1090.8" y="1005.23" text-anchor="end">400</text>
<text class="tk" x="1090.8" y="946.77" text-anchor="end">500</text>
<text class="tk" x="1090.8" y="888.3" text-anchor="end">600</text>
<text class="tk" x="1090.8" y="829.83" text-anchor="end">700</text>
<text class="tk" x="1090.8" y="771.37" text-anchor="end">800</text>
<text class="tk" x="1090.8" y="712.9" text-anchor="end">900</text>
<text class="ct" x="1162.86" y="1268.5" text-anchor="middle">T</text>
<text class="ct" x="1264.17" y="1268.5" text-anchor="middle">TB</text>
<text class="ct" x="1365.48" y="1268.5" text-anchor="middle">As</text>
<text class="ct" x="1466.79" y="1268.5" text-anchor="middle">Cd</text>
<text class="ct" x="1568.11" y="1268.5" text-anchor="middle">AsB</text>
<text class="ct" x="1669.42" y="1268.5" text-anchor="middle">CdB</text>
<text class="ct" x="1770.73" y="1268.5" text-anchor="middle">AsBF</text>
<text class="ct" x="1872.04" y="1268.5" text-anchor="middle">CdBF</text>
<text class="yt" transform="translate(1010 965.5) rotate(-90)" text-anchor="middle">mg/Kg peso seco</text>
<g filter="url(#blur)" fill="#000" opacity="0.22"><rect x="1127.5" y="1207.2" width="26.08" height="25.3"/><rect x="1150.03" y="1215.4" width="26.08" height="17.1"/><rect x="1172.56" y="1044.1" width="26.08" height="188.4"/><rect x="1228.81" y="1208.8" width="26.08" height="23.7"/><rect x="1251.34" y="1202.8" width="26.08" height="29.7"/><rect x="1273.87" y="1033.7" width="26.08" height="198.8"/><rect x="1330.12" y="1218.6" width="26.08" height="13.9"/><rect x="1352.65" y="1197.4" width="26.08" height="35.1"/><rect x="1375.18" y="779.5" width="26.08" height="453"/><rect x="1431.44" y="1218.6" width="26.08" height="13.9"/><rect x="1453.97" y="1201.7" width="26.08" height="30.8"/><rect x="1476.5" y="1039.7" width="26.08" height="192.8"/><rect x="1532.75" y="1220.3" width="26.08" height="12.2"/><rect x="1555.28" y="1191.9" width="26.08" height="40.6"/><rect x="1577.81" y="1163" width="26.08" height="69.5"/><rect x="1634.06" y="1215.4" width="26.08" height="17.1"/><rect x="1656.59" y="1212.1" width="26.08" height="20.4"/><rect x="1679.12" y="1064.8" width="26.08" height="167.7"/><rect x="1757.9" y="1209.4" width="26.08" height="23.1"/><rect x="1780.43" y="1040.8" width="26.08" height="191.7"/><rect x="1836.69" y="1213.2" width="26.08" height="19.3"/><rect x="1859.22" y="1188.6" width="26.08" height="43.9"/><rect x="1881.75" y="1057.7" width="26.08" height="174.8"/></g>
<path d="M1112.5 705V1239M1104.7 1231.5H1923M1104.7 1173.5H1112.5M1104.7 1114.5H1112.5M1104.7 1056.5H1112.5M1104.7 997.5H1112.5M1104.7 939.5H1112.5M1104.7 880.5H1112.5M1104.7 822.5H1112.5M1104.7 763.5H1112.5M1104.7 705.5H1112.5M1213.5 1231.5V1239M1314.5 1231.5V1239M1416.5 1231.5V1239M1517.5 1231.5V1239M1618.5 1231.5V1239M1720.5 1231.5V1239M1821.5 1231.5V1239M1922.5 1231.5V1239" stroke="#000" stroke-width="1.2" fill="none"/>
<rect x="1129.03" y="1208.73" width="22.53" height="23.17" fill="url(#gh)" stroke="#0a0a0a" stroke-width="2.05"/><rect x="1130.05" y="1209.75" width="20.48" height="21.12" fill="url(#sh)"/><rect x="1130.05" y="1224.88" width="20.48" height="6" fill="url(#bot)"/><polygon points="1130.05,1209.75 1150.53,1209.75 1144.64,1215.95 1135.94,1215.95" fill="url(#bh)"/><rect x="1151.56" y="1216.93" width="22.53" height="14.97" fill="url(#gt)" stroke="#0a0a0a" stroke-width="2.05"/><rect x="1152.58" y="1217.95" width="20.48" height="12.92" fill="url(#st)"/><rect x="1152.58" y="1224.88" width="20.48" height="6" fill="url(#bot)"/><polygon points="1152.58,1217.95 1173.06,1217.95 1167.17,1224.15 1158.47,1224.15" fill="url(#bt)"/><rect x="1174.09" y="1045.62" width="22.53" height="186.28" fill="url(#gr)" stroke="#0a0a0a" stroke-width="2.05"/><rect x="1175.11" y="1046.65" width="20.48" height="184.23" fill="url(#sr)"/><rect x="1175.11" y="1224.88" width="20.48" height="6" fill="url(#bot)"/><polygon points="1175.11,1046.65 1195.59,1046.65 1189.7,1052.85 1181,1052.85" fill="url(#br)"/><rect x="1230.34" y="1210.33" width="22.53" height="21.58" fill="url(#gh)" stroke="#0a0a0a" stroke-width="2.05"/><rect x="1231.36" y="1211.35" width="20.48" height="19.53" fill="url(#sh)"/><rect x="1231.36" y="1224.88" width="20.48" height="6" fill="url(#bot)"/><polygon points="1231.36,1211.35 1251.84,1211.35 1245.95,1217.55 1237.25,1217.55" fill="url(#bh)"/><rect x="1252.87" y="1204.33" width="22.53" height="27.58" fill="url(#gt)" stroke="#0a0a0a" stroke-width="2.05"/><rect x="1253.89" y="1205.35" width="20.48" height="25.53" fill="url(#st)"/><rect x="1253.89" y="1224.88" width="20.48" height="6" fill="url(#bot)"/><polygon points="1253.89,1205.35 1274.37,1205.35 1268.48,1211.55 1259.78,1211.55" fill="url(#bt)"/><rect x="1275.4" y="1035.23" width="22.53" height="196.67" fill="url(#gr)" stroke="#0a0a0a" stroke-width="2.05"/><rect x="1276.42" y="1036.25" width="20.48" height="194.62" fill="url(#sr)"/><rect x="1276.42" y="1224.88" width="20.48" height="6" fill="url(#bot)"/><polygon points="1276.42,1036.25 1296.9,1036.25 1291.01,1042.45 1282.31,1042.45" fill="url(#br)"/><rect x="1331.65" y="1220.12" width="22.53" height="11.78" fill="url(#gh)" stroke="#0a0a0a" stroke-width="2.05"/><rect x="1332.68" y="1221.15" width="20.48" height="9.73" fill="url(#sh)"/><rect x="1332.68" y="1224.88" width="20.48" height="6" fill="url(#bot)"/><polygon points="1332.68,1221.15 1353.15,1221.15 1347.26,1227.35 1338.57,1227.35" fill="url(#bh)"/><rect x="1354.18" y="1198.93" width="22.53" height="32.97" fill="url(#gt)" stroke="#0a0a0a" stroke-width="2.05"/><rect x="1355.21" y="1199.95" width="20.48" height="30.92" fill="url(#st)"/><rect x="1355.21" y="1224.88" width="20.48" height="6" fill="url(#bot)"/><polygon points="1355.21,1199.95 1375.68,1199.95 1369.79,1206.15 1361.1,1206.15" fill="url(#bt)"/><rect x="1376.71" y="781.02" width="22.53" height="450.88" fill="url(#gr)" stroke="#0a0a0a" stroke-width="2.05"/><rect x="1377.74" y="782.05" width="20.48" height="448.83" fill="url(#sr)"/><rect x="1377.74" y="1224.88" width="20.48" height="6" fill="url(#bot)"/><polygon points="1377.74,782.05 1398.21,782.05 1392.32,788.25 1383.63,788.25" fill="url(#br)"/><rect x="1432.96" y="1220.12" width="22.53" height="11.78" fill="url(#gh)" stroke="#0a0a0a" stroke-width="2.05"/><rect x="1433.99" y="1221.15" width="20.48" height="9.73" fill="url(#sh)"/><rect x="1433.99" y="1224.88" width="20.48" height="6" fill="url(#bot)"/><polygon points="1433.99,1221.15 1454.47,1221.15 1448.58,1227.35 1439.88,1227.35" fill="url(#bh)"/><rect x="1455.49" y="1203.23" width="22.53" height="28.67" fill="url(#gt)" stroke="#0a0a0a" stroke-width="2.05"/><rect x="1456.52" y="1204.25" width="20.48" height="26.62" fill="url(#st)"/><rect x="1456.52" y="1224.88" width="20.48" height="6" fill="url(#bot)"/><polygon points="1456.52,1204.25 1477,1204.25 1471.11,1210.45 1462.41,1210.45" fill="url(#bt)"/><rect x="1478.02" y="1041.23" width="22.53" height="190.67" fill="url(#gr)" stroke="#0a0a0a" stroke-width="2.05"/><rect x="1479.05" y="1042.25" width="20.48" height="188.62" fill="url(#sr)"/><rect x="1479.05" y="1224.88" width="20.48" height="6" fill="url(#bot)"/><polygon points="1479.05,1042.25 1499.53,1042.25 1493.64,1048.45 1484.94,1048.45" fill="url(#br)"/><rect x="1534.28" y="1221.83" width="22.53" height="10.08" fill="url(#gh)" stroke="#0a0a0a" stroke-width="2.05"/><rect x="1535.3" y="1222.85" width="20.48" height="8.03" fill="url(#sh)"/><rect x="1535.3" y="1224.88" width="20.48" height="6" fill="url(#bot)"/><polygon points="1535.3,1222.85 1555.78,1222.85 1549.89,1229.05 1541.19,1229.05" fill="url(#bh)"/><rect x="1556.81" y="1193.43" width="22.53" height="38.47" fill="url(#gt)" stroke="#0a0a0a" stroke-width="2.05"/><rect x="1557.83" y="1194.45" width="20.48" height="36.42" fill="url(#st)"/><rect x="1557.83" y="1224.88" width="20.48" height="6" fill="url(#bot)"/><polygon points="1557.83,1194.45 1578.31,1194.45 1572.42,1200.65 1563.72,1200.65" fill="url(#bt)"/><rect x="1579.34" y="1164.53" width="22.53" height="67.38" fill="url(#gr)" stroke="#0a0a0a" stroke-width="2.05"/><rect x="1580.36" y="1165.55" width="20.48" height="65.33" fill="url(#sr)"/><rect x="1580.36" y="1224.88" width="20.48" height="6" fill="url(#bot)"/><polygon points="1580.36,1165.55 1600.84,1165.55 1594.95,1171.75 1586.25,1171.75" fill="url(#br)"/><rect x="1635.59" y="1216.93" width="22.53" height="14.97" fill="url(#gh)" stroke="#0a0a0a" stroke-width="2.05"/><rect x="1636.61" y="1217.95" width="20.48" height="12.92" fill="url(#sh)"/><rect x="1636.61" y="1224.88" width="20.48" height="6" fill="url(#bot)"/><polygon points="1636.61,1217.95 1657.09,1217.95 1651.2,1224.15 1642.5,1224.15" fill="url(#bh)"/><rect x="1658.12" y="1213.62" width="22.53" height="18.28" fill="url(#gt)" stroke="#0a0a0a" stroke-width="2.05"/><rect x="1659.14" y="1214.65" width="20.48" height="16.23" fill="url(#st)"/><rect x="1659.14" y="1224.88" width="20.48" height="6" fill="url(#bot)"/><polygon points="1659.14,1214.65 1679.62,1214.65 1673.73,1220.85 1665.03,1220.85" fill="url(#bt)"/><rect x="1680.65" y="1066.33" width="22.53" height="165.58" fill="url(#gr)" stroke="#0a0a0a" stroke-width="2.05"/><rect x="1681.67" y="1067.35" width="20.48" height="163.53" fill="url(#sr)"/><rect x="1681.67" y="1224.88" width="20.48" height="6" fill="url(#bot)"/><polygon points="1681.67,1067.35 1702.15,1067.35 1696.26,1073.55 1687.56,1073.55" fill="url(#br)"/><rect x="1759.43" y="1210.93" width="22.53" height="20.97" fill="url(#gt)" stroke="#0a0a0a" stroke-width="2.05"/><rect x="1760.46" y="1211.95" width="20.48" height="18.92" fill="url(#st)"/><rect x="1760.46" y="1224.88" width="20.48" height="6" fill="url(#bot)"/><polygon points="1760.46,1211.95 1780.93,1211.95 1775.04,1218.15 1766.35,1218.15" fill="url(#bt)"/><rect x="1781.96" y="1042.33" width="22.53" height="189.58" fill="url(#gr)" stroke="#0a0a0a" stroke-width="2.05"/><rect x="1782.99" y="1043.35" width="20.48" height="187.53" fill="url(#sr)"/><rect x="1782.99" y="1224.88" width="20.48" height="6" fill="url(#bot)"/><polygon points="1782.99,1043.35 1803.46,1043.35 1797.57,1049.55 1788.88,1049.55" fill="url(#br)"/><rect x="1838.21" y="1214.73" width="22.53" height="17.17" fill="url(#gh)" stroke="#0a0a0a" stroke-width="2.05"/><rect x="1839.24" y="1215.75" width="20.48" height="15.12" fill="url(#sh)"/><rect x="1839.24" y="1224.88" width="20.48" height="6" fill="url(#bot)"/><polygon points="1839.24,1215.75 1859.72,1215.75 1853.83,1221.95 1845.13,1221.95" fill="url(#bh)"/><rect x="1860.74" y="1190.12" width="22.53" height="41.78" fill="url(#gt)" stroke="#0a0a0a" stroke-width="2.05"/><rect x="1861.77" y="1191.15" width="20.48" height="39.73" fill="url(#st)"/><rect x="1861.77" y="1224.88" width="20.48" height="6" fill="url(#bot)"/><polygon points="1861.77,1191.15 1882.25,1191.15 1876.36,1197.35 1867.66,1197.35" fill="url(#bt)"/><rect x="1883.27" y="1059.23" width="22.53" height="172.67" fill="url(#gr)" stroke="#0a0a0a" stroke-width="2.05"/><rect x="1884.3" y="1060.25" width="20.48" height="170.62" fill="url(#sr)"/><rect x="1884.3" y="1224.88" width="20.48" height="6" fill="url(#bot)"/><polygon points="1884.3,1060.25 1904.78,1060.25 1898.89,1066.45 1890.19,1066.45" fill="url(#br)"/>
<g stroke="#111" stroke-width="1.15" fill="none"><path d="M1241.5 1210.3V1203.5M1236.3 1203.5H1246.7" /><path d="M1264.5 1204.3V1201.5M1259.3 1201.5H1269.7" /><path d="M1545.5 1221.8V1207.5M1540.3 1207.5H1550.7" /><path d="M1568.5 1193.4V1169.5M1563.3 1169.5H1573.7" /><path d="M1590.5 1164.5V1069.5M1585.3 1069.5H1595.7" /><path d="M1647.5 1216.9V1208.5M1642.3 1208.5H1652.7" /><path d="M1669.5 1213.6V1209.5M1664.3 1209.5H1674.7" /><path d="M1692.5 1066.3V1026.5M1687.3 1026.5H1697.7" /><path d="M1849.5 1214.7V1210.5M1844.3 1210.5H1854.7" /><path d="M1872.5 1190.1V1169.5M1867.3 1169.5H1877.7" /><path d="M1894.5 1059.2V1015.5M1889.3 1015.5H1899.7" /></g>
</g>
<path d="M1743.5 1230.5H1753" stroke="#111" stroke-width="1.15" fill="none"/>
<text class="an" transform="translate(264.3 574.5) rotate(-90)">a,c</text>
<text class="an" transform="translate(291.5 556) rotate(-90)">a,c</text>
<text class="an" transform="translate(314.7 544) rotate(-90)">c</text>
<text class="an" transform="translate(374.3 579.5) rotate(-90)">a,c</text>
<text class="an" transform="translate(397 436.3) rotate(-90)">c</text>
<text class="an" transform="translate(421 276) rotate(-90)">b</text>
<text class="an" transform="translate(478.7 575) rotate(-90)">a,c</text>
<text class="an" transform="translate(501.5 567) rotate(-90)">c</text>
<text class="an" transform="translate(525 560.5) rotate(-90)">a,c</text>
<text class="an" transform="translate(583.5 564.5) rotate(-90)">c</text>
<text class="an" transform="translate(607 277) rotate(-90)">a</text>
<text class="an" transform="translate(625.8 91.5) rotate(-90)">a,b,c</text>
<text class="an" transform="translate(689 575.8) rotate(-90)">a,c</text>
<text class="an" transform="translate(712.5 561.5) rotate(-90)">a,c</text>
<text class="an" transform="translate(734.5 550.5) rotate(-90)">c</text>
<text class="an" transform="translate(794.5 570.8) rotate(-90)">a,c</text>
<text class="an" transform="translate(813 309) rotate(-90)">b</text>
<text class="an" transform="translate(840 113.5) rotate(-90)">a,c</text>
<text class="pl" x="73" y="561.5">a</text>
<text class="pl" x="973.5" y="561.5">b</text>
<text class="pl" x="70.3" y="1310.3">c</text>
<text class="pl" x="1006" y="1310.5">d</text>
<rect x="1775.4" y="78.5" width="15.6" height="15.6" fill="#000" opacity="0.3" filter="url(#blur)"/>
<rect x="1776.8" y="79.8" width="12.8" height="12.8" fill="url(#gh)" stroke="#0a0a0a" stroke-width="2"/>
<polygon points="1777.8,80.8 1788.6,80.8 1784.2,85.9 1782.2,85.9" fill="url(#bh)"/>
<text class="lg" x="1793.5" y="92.7">Hoja</text>
<rect x="1775.4" y="133.6" width="15.6" height="15.6" fill="#000" opacity="0.3" filter="url(#blur)"/>
<rect x="1776.8" y="134.9" width="12.8" height="12.8" fill="url(#gt)" stroke="#0a0a0a" stroke-width="2"/>
<polygon points="1777.8,135.9 1788.6,135.9 1784.2,141 1782.2,141" fill="url(#bt)"/>
<text class="lg" x="1794.9" y="147.8">Tallo</text>
<rect x="1775.4" y="188.7" width="15.6" height="15.6" fill="#000" opacity="0.3" filter="url(#blur)"/>
<rect x="1776.8" y="190" width="12.8" height="12.8" fill="url(#gr)" stroke="#0a0a0a" stroke-width="2"/>
<polygon points="1777.8,191 1788.6,191 1784.2,196.1 1782.2,196.1" fill="url(#br)"/>
<text class="lg" x="1793.5" y="202.9">Raíz</text>
<g class="cp">
<text class="cb" x="60.9" y="1368.3">Fig.</text>
<text class="cb" x="116.3" y="1368.3">1.</text>
<text class="cb" x="144.8" y="1368.3">Concentración</text>
<text class="cb" x="335.1" y="1368.3">y</text>
<text class="cb" x="356.9" y="1368.3">distribución</text>
<text class="cb" x="515.7" y="1368.3">de</text>
<text class="cb" x="552.2" y="1368.3">los</text>
<text class="cb" x="592.3" y="1368.3">elementos</text>
<text class="cb" x="724.3" y="1368.3">evaluados</text>
<text class="cb" x="854.2" y="1368.3">en</text>
<text class="cb" x="891" y="1368.3">las</text>
<text class="cb" x="932.4" y="1368.3">plantas</text>
<text class="cbi" x="1030.9" y="1368.3">de</text>
<text class="cbi" x="1064" y="1368.3">S.</text>
<text class="cbi sp" x="1095.4" y="1368.3">praealtum</text>
<text class="cb" x="1225.7" y="1368.3">A.</text>
<text class="cb" x="1261.9" y="1368.3">DC.</text>
<text class="cr" x="1310.4" y="1368.3">:</text>
<text class="cb" x="1326.9" y="1368.3">a)</text>
<text class="cr" x="1358.3" y="1368.3">arsenico</text>
<text class="cr" x="1462.3" y="1368.3">y</text>
<text class="cr" x="1483.8" y="1368.3">cadmio</text>
<text class="cb" x="1564.9" y="1368.3">,</text>
<text class="cb" x="1585.6" y="1368.3">b)</text>
<text class="cr" x="1624.7" y="1368.3">calcio</text>
<text class="cb" x="1690.4" y="1368.3">,</text>
<text class="cb" x="1710.2" y="1368.3">c)</text>
<text class="cr" x="1740" y="1368.3">magnesio</text>
<text class="cr" x="1858.4" y="1368.3">y</text>
<text class="cb" x="1880.9" y="1368.3">d</text>
<text class="cr" x="1896.6" y="1368.3">)</text>
<text class="cr" x="1914.7" y="1368.3">fierro</text>
<text class="cr" x="1986" y="1368.3">(n=9),</text>
<text class="cr" x="185.2" y="1403.6">(</text>
<text class="cr" x="201.8" y="1403.6">a</text>
<text class="cr" x="221" y="1403.6">=</text>
<text class="cr" x="244.9" y="1403.6">p&lt;</text>
<text class="cr" x="284" y="1403.6">0.05,</text>
<text class="cr" x="350.3" y="1403.6">b</text>
<text class="cr" x="372.4" y="1403.6">=</text>
<text class="cr" x="394.1" y="1403.6">p&lt;</text>
<text class="cr" x="433.8" y="1403.6">0.01</text>
<text class="cr" x="491.8" y="1403.6">y</text>
<text class="cr" x="514" y="1403.6">c</text>
<text class="cr" x="533.3" y="1403.6">=</text>
<text class="cr" x="557.1" y="1403.6">p</text>
<text class="cr" x="579.7" y="1403.6">&lt;</text>
<text class="cr" x="603.9" y="1403.6">0.001).</text>
</g>
</svg>
</body></html>
